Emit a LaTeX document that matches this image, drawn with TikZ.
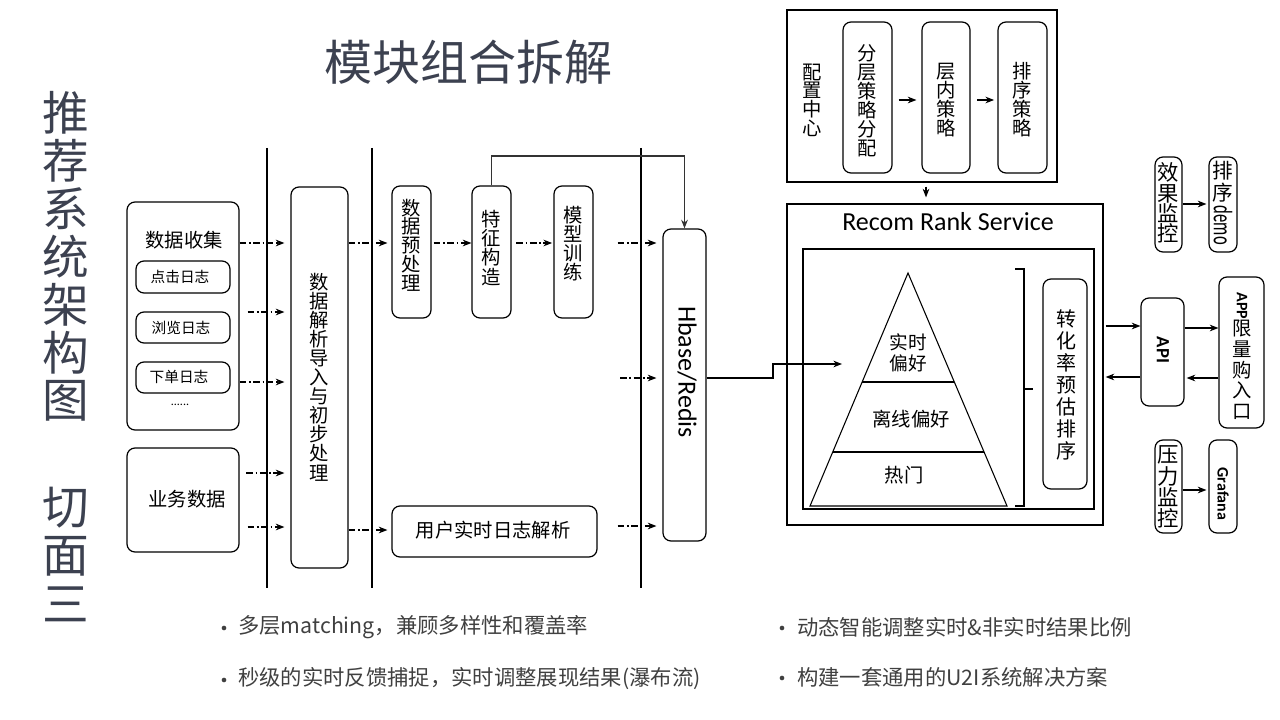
\documentclass[tikz,border=0pt]{standalone}
\usepackage{fontspec}
\setmainfont{Noto Sans CJK SC}
\newfontfamily\lat{Carlito}
\usetikzlibrary{arrows.meta,fit}
\definecolor{titlec}{HTML}{3C4150}
\definecolor{bulc}{HTML}{404040}
\newcommand{\myfs}[2]{\fontsize{#1}{#2}\selectfont\lineskiplimit=-100pt\lineskip=0pt}
\newcommand{\plainfs}[2]{\fontsize{#1}{#2}\selectfont}
\begin{document}
\begin{tikzpicture}[x=0.75pt,y=-0.75pt,
  rbox/.style={draw, line width=0.9pt, rounded corners=6pt, inner sep=0pt},
  sbox/.style={draw, line width=0.9pt, inner sep=0pt},
  txt/.style={inner sep=0pt, align=center},
  dda/.style={line width=0.8pt, dash pattern=on 5pt off 2pt on 1.2pt off 2pt, -{Stealth[length=6.5pt,width=5pt]}},
  arr/.style={line width=0.8pt, -{Stealth[length=6.5pt,width=5pt]}},
  divider/.style={line width=0.9pt},
  dot/.style={circle, fill=bulc, inner sep=0pt, minimum size=3.5pt},
  bul/.style={anchor=west, inner sep=0pt, text=bulc, font=\myfs{16}{19}},
]
\useasboundingbox (0,0) rectangle (1280,720);

% titles
\node[txt, text=titlec, font=\myfs{36}{36}] (title) at (468,62) {模块组合拆解};
\foreach \c/\y [count=\i] in {推/113, 荐/161, 系/209, 统/257, 架/305, 构/353, 图/401, 切/508, 面/556, 三/604}
  \node[txt, text=titlec, font=\myfs{35}{35}] (lt\i) at (66,\y) {\c};

% dividers
\draw[divider] (267,148) -- (267,588);
\draw[divider] (372,148) -- (372,588);
\draw[divider] (641,148) -- (641,588);

% left boxes
\node[rbox, fit={(127,202) (239,430)}] (dc) {};
\node[txt, font=\myfs{14.5}{16}] (dct) at (184,240) {数据收集};
\node[rbox, fit={(136,261) (230,293)}] (click) {};
\node[txt, font=\myfs{11}{12}] (clickt) at (180,277) {点击日志};
\node[rbox, fit={(136,312) (230,343)}] (browse) {};
\node[txt, font=\myfs{11}{12}] (browset) at (181,327.5) {浏览日志};
\node[rbox, fit={(136,362) (230,393)}] (order) {};
\node[txt, font=\myfs{11}{12}] (ordert) at (179,377) {下单日志};
\node[txt, font=\lat\myfs{9}{10}] (more) at (180,405) {......};
\node[rbox, fit={(127,448) (239,552)}] (biz) {};
\node[txt, font=\myfs{14.5}{16}] (bizt) at (187,499) {业务数据};

% parse box
\node[rbox, fit={(291,187) (348,568)}] (parse) {};
\node[txt, font=\myfs{14.5}{14.3}] (parset) at (319.5,377) {数\\据\\解\\析\\导\\入\\与\\初\\步\\处\\理};

% processing boxes
\node[rbox, fit={(392,186) (431,318)}] (pre) {};
\node[txt, font=\myfs{14.5}{14.1}] (pret) at (411.5,245) {数\\据\\预\\处\\理};
\node[rbox, fit={(472,186) (511,318)}] (feat) {};
\node[txt, font=\myfs{14.5}{14.3}] (featt) at (491.5,248) {特\\征\\构\\造};
\node[rbox, fit={(554,186) (593,318)}] (train) {};
\node[txt, font=\myfs{14.5}{14.3}] (traint) at (573.5,244) {模\\型\\训\\练};
\node[rbox, fit={(392,506) (597,557)}] (ulog) {};
\node[txt, font=\myfs{14.5}{16}] (ulogt) at (493,530) {用户实时日志解析};

% hbase
\node[rbox, fit={(663,229) (706,541)}] (hbase) {};
\node[txt, rotate=-90, font=\lat\myfs{19.5}{20}] (hbaset) at (687,372) {Hbase/Redis};

% config center
\node[sbox, fit={(787,10) (1057,182)}] (cfg) {};
\node[txt, font=\myfs{14.5}{14}] (cfgt) at (812,100) {配\\置\\中\\心};
\node[rbox, fit={(843,22) (892,173)}] (lay) {};
\node[txt, font=\myfs{14.5}{14.3}] (layt) at (867.5,101) {分\\层\\策\\略\\分\\配};
\node[rbox, fit={(922,22) (970,173)}] (inl) {};
\node[txt, font=\myfs{14.5}{14.3}] (inlt) at (946,100) {层\\内\\策\\略};
\node[rbox, fit={(998,22) (1047,173)}] (srt) {};
\node[txt, font=\myfs{14.5}{14.3}] (srtt) at (1022.5,100) {排\\序\\策\\略};

% recom rank service
\node[sbox, fit={(787,204) (1103,525)}] (recom) {};
\node[txt, font=\lat\myfs{19.5}{20}] (recomt) at (948,222) {Recom Rank Service};
\node[sbox, fit={(803,249) (1094,509)}] (inner) {};
\draw[line width=0.8pt] (908,273) -- (1007,506) -- (810,506) -- cycle;
\draw[line width=0.8pt] (862,382) -- (954,382);
\draw[line width=0.8pt] (833,452) -- (984,452);
\node[txt, font=\myfs{14}{15.75}] (p1) at (908.5,353) {实时\\偏好};
\node[txt, font=\myfs{14.5}{16}] (p2) at (911,419) {离线偏好};
\node[txt, font=\myfs{14.5}{16}] (p3) at (904,475) {热门};
\draw[line width=0.8pt] (1015,269) -- (1024,269) -- (1024,506) -- (1015,506);
\draw[line width=0.8pt] (1024,389) -- (1033,389);
\node[rbox, fit={(1043,279) (1087,489)}] (conv) {};
\node[txt, font=\myfs{15}{16.5}] (convt) at (1066,385) {转\\化\\率\\预\\估\\排\\序};

% right side
\node[rbox, fit={(1141,298) (1184,406)}] (api) {};
\node[txt, rotate=-90, font=\lat\bfseries\myfs{14}{14}] (apit) at (1163,350) {API};
\node[rbox, fit={(1219,277) (1264,428)}] (app) {};
\node[txt, font=\plainfs{14.5}{15.5}] (appt) at (1242,356) {\rotatebox{-90}{\lat\bfseries\plainfs{12}{12}APP}\\限\\量\\购\\入\\口};
\node[rbox, fit={(1155,157) (1182,252)}] (eff) {};
\node[txt, font=\myfs{16}{15.2}] (efft) at (1168.5,203) {效\\果\\监\\控};
\node[rbox, fit={(1209,157) (1237,252)}] (demo) {};
\node[txt, anchor=north, font=\myfs{15.5}{16.5}] (demot) at (1223,161) {排\\序\\[-12.5pt]\rotatebox{-90}{\scalebox{0.62}[1]{\lat\plainfs{20}{20}demo}}};
\node[rbox, fit={(1155,440) (1182,533)}] (press) {};
\node[txt, font=\myfs{16}{16}] (presst) at (1168.5,487) {压\\力\\监\\控};
\node[rbox, fit={(1209,440) (1237,533)}] (graf) {};
\node[txt, rotate=-90, font=\lat\bfseries\myfs{12}{12}] (graft) at (1223,494) {Grafana};

% dash-dot connectors
\draw[dda, shorten >=4.5pt] (dc.east |- 0,243) -- (parse.west |- 0,243);
\draw[dda, shorten <=6pt, shorten >=4.5pt] (dc.east |- 0,312) -- (parse.west |- 0,312);
\draw[dda, shorten >=4.5pt] (dc.east |- 0,382) -- (parse.west |- 0,382);
\draw[dda, shorten <=5pt, shorten >=4.5pt] (biz.east |- 0,473) -- (parse.west |- 0,473);
\draw[dda, shorten <=6pt, shorten >=4.5pt] (biz.east |- 0,527) -- (parse.west |- 0,527);
\draw[dda, shorten >=3pt] (parse.east |- 0,243) -- (pre.west |- 0,243);
\draw[dda, shorten >=3pt] (parse.east |- 0,530) -- (ulog.west |- 0,530);
\draw[dda, shorten <=1.5pt] (pre.east |- 0,243) -- (feat.west |- 0,243);
\draw[dda, shorten <=3.5pt, shorten >=1pt] (feat.east |- 0,243) -- (train.west |- 0,243);
\draw[dda, shorten <=18pt, shorten >=4.5pt] (train.east |- 0,243) -- (hbase.west |- 0,243);
\coordinate (free) at (620,378);
\draw[dda, shorten >=4.5pt] (free) -- (hbase.west |- free);
\draw[dda, shorten <=15pt, shorten >=4.5pt] (ulog.east |- 0,526) -- (hbase.west |- 0,526);

% solid connectors
\draw[arr, draw=black!80] (feat.north) |- (hbase.north |- 0,156) -- (hbase.north);
\coordinate (pyrin) at (842,364);
\draw[arr] (hbase.east |- 0,378) -| (773,364) -- (pyrin);
\draw[arr, shorten <=4.5pt, shorten >=3.75pt] (lay.east |- 0,100) -- (inl.west |- 0,100);
\draw[arr, shorten <=5pt, shorten >=2.5pt] (inl.east |- 0,100) -- (srt.west |- 0,100);
\draw[arr, shorten <=3pt, shorten >=4.5pt] (cfg.south -| 926,0) -- (recom.north -| 926,0);
\draw[arr, shorten <=1.5pt] (recom.east |- 0,326) -- (api.west |- 0,326);
\draw[arr, shorten >=1.5pt] (api.west |- 0,377) -- (recom.east |- 0,377);
\draw[arr] (api.east |- 0,328) -- (app.west |- 0,328);
\draw[arr, shorten >=1.5pt] (app.west |- 0,378) -- (api.east |- 0,378);
\draw[arr, shorten >=1.5pt] (eff.east |- 0,204) -- (demo.west |- 0,204);
\draw[arr, shorten >=1.5pt] (press.east |- 0,490) -- (graf.west |- 0,490);

% bullets
\node[dot] (b1) at (224,628) {};
\node[bul] (l1) at (238,627) {多层matching，兼顾多样性和覆盖率};
\node[dot] (b2) at (224,680) {};
\node[bul] (l2) at (238,679) {秒级的实时反馈捕捉，实时调整展现结果(瀑布流)};
\node[dot] (b3) at (782,628) {};
\node[bul] (l3) at (797,627) {动态智能调整实时\&非实时结果比例};
\node[dot] (b4) at (782,678) {};
\node[bul] (l4) at (797,677) {构建一套通用的U2I系统解决方案};
\end{tikzpicture}
\end{document}
